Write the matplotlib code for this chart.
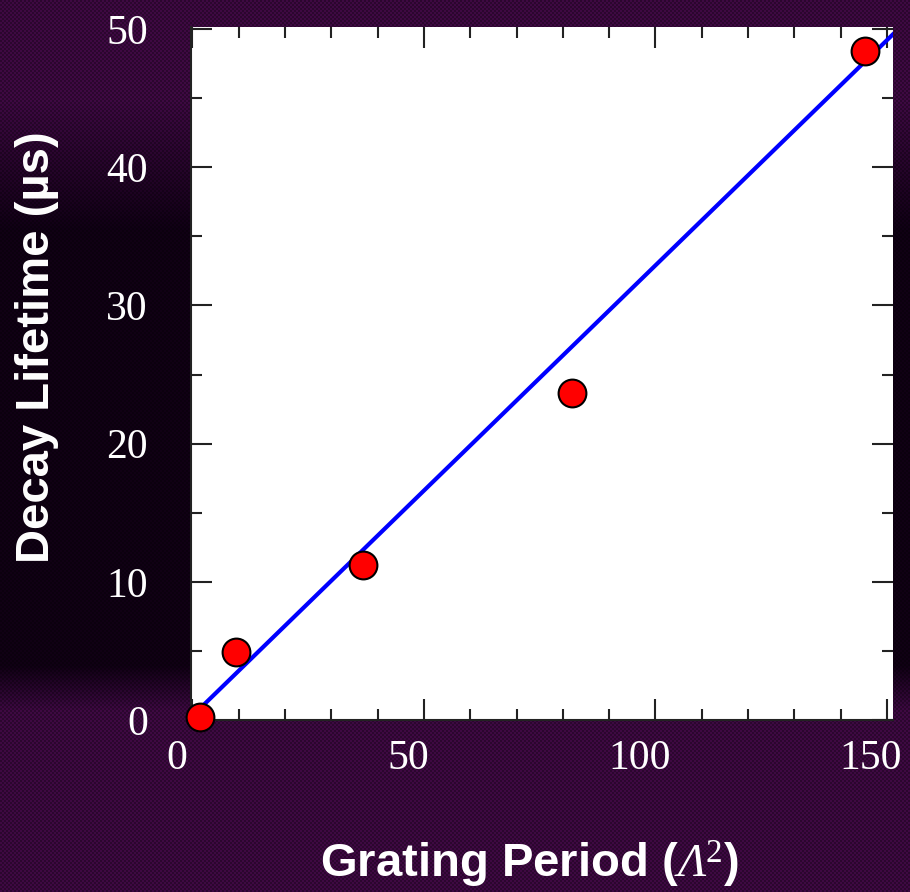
import numpy as np
import matplotlib
matplotlib.use("Agg")
import matplotlib.pyplot as plt
from matplotlib.ticker import MultipleLocator
import matplotlib.transforms as mtransforms

# Measured decay lifetimes versus squared grating period
grating_period_sq = [1.7, 9.4, 36.9, 81.9, 145.3]
decay_lifetime_us = [0.2, 4.9, 11.2, 23.7, 48.4]

# Linear fit through the measurements
fit_slope = 0.326
fit_intercept = 0.3

x_ticks = [0, 50, 100, 150]
y_ticks = [0, 10, 20, 30, 40, 50]

# Greek symbol in the x label drawn as italic serif, exponent upright serif
plt.rcParams['mathtext.fontset'] = 'custom'
plt.rcParams['mathtext.rm'] = 'Liberation Serif:italic'
plt.rcParams['mathtext.it'] = 'Liberation Serif:italic'
plt.rcParams['mathtext.sf'] = 'Liberation Serif'

W, H, DPI = 910, 892, 100
fig = plt.figure(figsize=(W / DPI, H / DPI), dpi=DPI)

# Dark purple slide background: purple at top and bottom, near black in the middle
bg_ax = fig.add_axes([0, 0, 1, 1], zorder=-10)
rows = np.arange(H)
purple = np.array([54, 8, 58]) / 255.0
dark = np.array([14, 0, 18]) / 255.0
t = np.ones(H)
t = np.where(rows < 100, 0.0, t)
t = np.where((rows >= 100) & (rows < 230), (rows - 100) / 130.0, t)
t = np.where((rows >= 665) & (rows < 710), 1 - (rows - 665) / 45.0, t)
t = np.where(rows >= 710, 0.0, t)
col = purple[None, :] * (1 - t[:, None]) + dark[None, :] * t[:, None]
img = np.repeat(col[:, None, :], W, axis=1)
yy, xx = np.mgrid[0:H, 0:W]
checker = ((xx // 2 + yy // 2) % 2).astype(float)
img = img * (0.8 + 0.35 * checker[:, :, None])
img = np.clip(img, 0, 1)
bg_ax.imshow(img, aspect='auto', extent=[0, 1, 0, 1], interpolation='nearest')
bg_ax.set_axis_off()

ax = fig.add_axes([191 / W, 1 - 720 / H, (893 - 191) / W, (720 - 27) / H])
ax.set_facecolor('white')

x_fit = np.array([grating_period_sq[0], 152.0])
ax.plot(x_fit, fit_slope * x_fit + fit_intercept, color='#0000ff', lw=3, zorder=2)
ax.plot(grating_period_sq, decay_lifetime_us, 'o', ms=20, mfc='#ff0000',
        mec='black', mew=1.5, clip_on=False, zorder=3)

ax.set_xlim(-0.3, 151.3)
ax.set_ylim(0, 50.15)
ax.set_xticks(x_ticks)
ax.set_yticks(y_ticks)
ax.xaxis.set_minor_locator(MultipleLocator(10))
ax.yaxis.set_minor_locator(MultipleLocator(5))

tick_color = '#222222'
ax.tick_params(which='both', direction='in', top=True, right=True,
               color=tick_color, width=1.5)
ax.tick_params(which='major', length=15)
ax.tick_params(which='minor', length=8)
ax.tick_params(axis='x', which='major', pad=14)
ax.tick_params(axis='y', which='major', pad=31)

for lab in ax.get_xticklabels() + ax.get_yticklabels():
    lab.set_fontfamily('Liberation Serif')
    lab.set_fontsize(30)
    lab.set_color('white')

shift = mtransforms.ScaledTranslation(-16 / DPI, 0, fig.dpi_scale_trans)
for lab in ax.get_xticklabels():
    lab.set_transform(lab.get_transform() + shift)

for side in ['top', 'right']:
    ax.spines[side].set_visible(False)
for side in ['left', 'bottom']:
    ax.spines[side].set_color(tick_color)
    ax.spines[side].set_linewidth(1.5)

fig.text(529 / W, 1 - 865 / H, r'Grating Period ($Λ^{\mathsf{2}}$)',
         ha='center', va='center', color='white', fontsize=34,
         fontweight='bold', family='Liberation Sans')
fig.text(37 / W, 1 - 347 / H, 'Decay Lifetime (µs)', rotation=90,
         ha='center', va='center', color='white', fontsize=34,
         fontweight='bold', family='Liberation Sans')

fig.savefig('out.png', dpi=DPI)
